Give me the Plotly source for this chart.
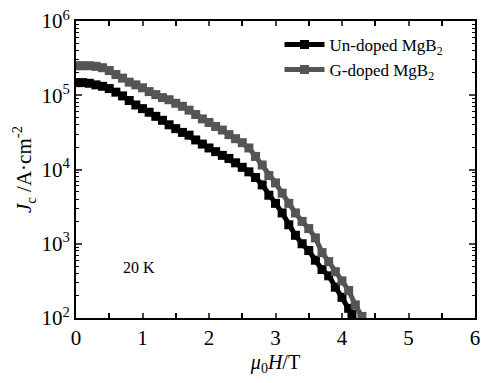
import plotly.graph_objects as go

# Field (T)
H_un = [0.0, 0.1, 0.2, 0.3, 0.4, 0.5, 0.6, 0.7, 0.8, 0.9, 1.0, 1.1, 1.2, 1.3, 1.4,
        1.5, 1.6, 1.7, 1.8, 1.9, 2.0, 2.1, 2.2, 2.3, 2.4, 2.5, 2.6, 2.7, 2.8, 2.9,
        3.0, 3.1, 3.2, 3.3, 3.4, 3.5, 3.6, 3.7, 3.8, 3.9, 4.0, 4.1, 4.15]
Jc_un = [1.48e5, 1.48e5, 1.45e5, 1.38e5, 1.32e5, 1.23e5, 1.10e5, 9.8e4, 8.5e4, 7.4e4,
         6.6e4, 5.9e4, 5.2e4, 4.6e4, 4.0e4, 3.55e4, 3.16e4, 2.9e4, 2.5e4, 2.2e4,
         1.95e4, 1.74e4, 1.55e4, 1.41e4, 1.23e4, 1.07e4, 9.3e3, 7.8e3, 6.2e3, 4.5e3,
         3.5e3, 2.6e3, 1.8e3, 1.3e3, 1.0e3, 810, 600, 450, 370, 260, 190, 135, 112]

H_g = [0.0, 0.1, 0.2, 0.3, 0.4, 0.5, 0.6, 0.7, 0.8, 0.9, 1.0, 1.1, 1.2, 1.3, 1.4,
       1.5, 1.6, 1.7, 1.8, 1.9, 2.0, 2.1, 2.2, 2.3, 2.4, 2.5, 2.6, 2.7, 2.8, 2.9,
       3.0, 3.1, 3.2, 3.3, 3.4, 3.5, 3.6, 3.7, 3.8, 3.9, 4.0, 4.1, 4.2, 4.3]
Jc_g = [2.5e5, 2.5e5, 2.5e5, 2.45e5, 2.35e5, 2.15e5, 1.9e5, 1.7e5, 1.5e5, 1.38e5,
        1.26e5, 1.12e5, 1.02e5, 9.3e4, 8.7e4, 7.8e4, 7.1e4, 6.3e4, 5.5e4, 4.8e4,
        4.3e4, 3.8e4, 3.4e4, 2.95e4, 2.6e4, 2.3e4, 1.95e4, 1.5e4, 1.15e4, 8.3e3,
        6.6e3, 4.8e3, 3.5e3, 2.6e3, 2.0e3, 1.6e3, 1.2e3, 760, 575, 420, 316, 235, 150, 105]

x_ticks = [0, 1, 2, 3, 4, 5, 6]
y_tickvals = [1e2, 1e3, 1e4, 1e5, 1e6]
y_ticktext = ["10<sup>2</sup>", "10<sup>3</sup>", "10<sup>4</sup>", "10<sup>5</sup>", "10<sup>6</sup>"]

FONT = "Liberation Serif, Times New Roman, serif"

fig = go.Figure()
fig.add_trace(go.Scatter(x=H_un, y=Jc_un, mode="lines+markers", name="Un-doped MgB<sub>2</sub>",
                         line=dict(color="#000000", width=5),
                         marker=dict(symbol="square", size=9, color="#000000")))
fig.add_trace(go.Scatter(x=H_g, y=Jc_g, mode="lines+markers", name="G-doped MgB<sub>2</sub>",
                         line=dict(color="#555555", width=5),
                         marker=dict(symbol="square", size=9, color="#555555")))

fig.add_annotation(x=0.94, y=2.68, xref="x", yref="y", text="20 K", showarrow=False,
                   font=dict(family=FONT, size=16, color="black"))

fig.update_layout(
    width=481, height=383,
    margin=dict(l=76, r=6, t=21, b=65),
    paper_bgcolor="white", plot_bgcolor="white",
    font=dict(family=FONT, color="black"),
    showlegend=True,
    legend=dict(x=0.51, y=0.98, xanchor="left", yanchor="top",
                font=dict(family=FONT, size=17, color="black"),
                bgcolor="rgba(0,0,0,0)", tracegroupgap=0, itemwidth=40),
)
fig.update_xaxes(
    range=[0, 6], tickvals=x_ticks, ticks="inside", ticklen=5, tickwidth=1.5,
    showline=True, linecolor="black", linewidth=2, mirror="allticks",
    showgrid=False, zeroline=False, automargin=False,
    tickfont=dict(family=FONT, size=21, color="black"),
    minor=dict(dtick=0.5, ticks="inside", ticklen=5, tickwidth=1.5, tickcolor="black", showgrid=False),
    title=dict(text="<i>μ</i><sub>0</sub><i>H</i>/T", font=dict(family=FONT, size=20), standoff=6),
)
fig.update_yaxes(
    type="log", range=[2, 6], tickvals=y_tickvals, ticktext=y_ticktext,
    ticks="inside", ticklen=6, tickwidth=1.5,
    showline=True, linecolor="black", linewidth=2, mirror="allticks",
    showgrid=False, zeroline=False, automargin=False,
    tickfont=dict(family=FONT, size=21, color="black"),
    minor=dict(ticks="inside", ticklen=3, tickwidth=1, tickcolor="black", showgrid=False,
               tickvals=[m * 10 ** e for e in range(2, 6) for m in range(2, 10)]),
    title=dict(text="<i>J</i><sub>c</sub> /A·cm<sup>-2</sup>", font=dict(family=FONT, size=21), standoff=4),
)

fig.write_html("out.html", config={"displayModeBar": False})

# remove the default page margin so the figure sits at the window's top-left corner
with open("out.html", encoding="utf-8") as f:
    html = f.read()
html = html.replace("<head>", "<head><style>html,body{margin:0;padding:0;overflow:hidden}</style>", 1)
with open("out.html", "w", encoding="utf-8") as f:
    f.write(html)
